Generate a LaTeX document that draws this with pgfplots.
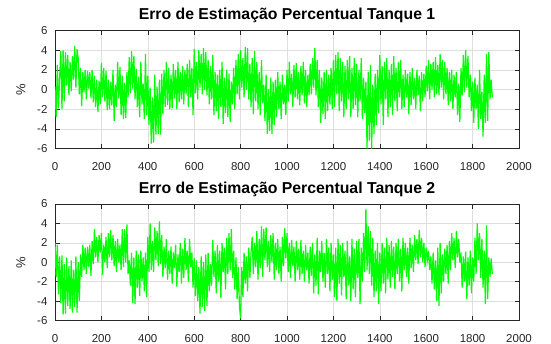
\documentclass[border=0pt]{standalone}
\usepackage{pgfplots}
\pgfplotsset{compat=1.18}
\usepackage{pgfplotstable}
\usepackage{fontspec}
\setmainfont{Liberation Sans}
\definecolor{axgray}{gray}{0.15}
\definecolor{gridgray}{gray}{0.87}
\definecolor{sig}{rgb}{0,1,0}

% Tanque 1 -- one value every 5 samples, starting at sample 0
\pgfplotstableread[row sep=\\]{
y\\
0.3\\ -2.8\\ 2.5\\ -1.9\\ 1.2\\ 3.9\\ -2.0\\ 4.0\\ -1.2\\ 3.8\\
0.4\\ 3.5\\ -0.6\\ 2.8\\ -0.2\\ 3.4\\ 1.0\\ 4.4\\ 0.2\\ 4.1\\
3.2\\ -0.5\\ 2.2\\ -1.7\\ 1.8\\ -0.3\\ 2.0\\ -1.0\\ 1.9\\ 0.1\\
1.8\\ -0.9\\ 2.0\\ -1.3\\ 1.4\\ -1.8\\ 1.0\\ -2.3\\ 0.9\\ -1.5\\
2.7\\ -0.8\\ 2.2\\ -1.2\\ 1.9\\ -2.1\\ 1.0\\ -2.0\\ 0.8\\ -1.6\\
2.0\\ -3.2\\ 0.5\\ -1.8\\ 2.8\\ -0.9\\ 2.3\\ -2.6\\ 1.4\\ -3.0\\
0.7\\ -2.9\\ 1.8\\ -0.8\\ 3.3\\ -0.4\\ 3.9\\ 0.1\\ 3.4\\ -1.0\\
2.1\\ -1.8\\ 1.3\\ -2.8\\ 2.8\\ -1.5\\ 0.6\\ -3.0\\ 3.6\\ -2.6\\
1.4\\ -3.6\\ 0.2\\ -5.5\\ -0.8\\ -5.4\\ 1.5\\ -4.6\\ 0.3\\ -4.5\\
1.0\\ -4.6\\ 1.6\\ -2.5\\ 2.0\\ -1.8\\ 2.8\\ -1.6\\ 2.2\\ -2.0\\
1.5\\ -1.9\\ 2.6\\ -0.9\\ 2.0\\ -2.0\\ 2.8\\ -1.3\\ 1.8\\ -1.0\\
2.4\\ -1.5\\ 2.0\\ -0.5\\ 2.6\\ -1.8\\ 3.0\\ -0.8\\ 2.2\\ -2.6\\
4.1\\ -0.4\\ 2.8\\ -1.0\\ 4.0\\ 0.2\\ 3.6\\ -0.5\\ 4.2\\ 0.0\\
3.8\\ -0.6\\ 3.0\\ -1.5\\ 2.4\\ -1.0\\ 3.5\\ -2.6\\ 1.8\\ -2.2\\
1.5\\ -3.0\\ 2.0\\ -1.8\\ 2.8\\ -3.5\\ 1.2\\ -2.4\\ 2.0\\ -2.8\\
1.6\\ -3.3\\ 0.8\\ -1.5\\ 2.2\\ -2.0\\ 3.0\\ -0.5\\ 3.6\\ -1.0\\
4.0\\ 0.2\\ 3.2\\ -0.8\\ 4.3\\ 0.0\\ 4.2\\ -1.0\\ 2.6\\ -1.8\\
3.2\\ -2.5\\ 3.9\\ -1.2\\ 2.8\\ -2.0\\ 1.8\\ -2.6\\ 3.0\\ -1.4\\
0.5\\ -3.2\\ 1.5\\ -4.5\\ 0.0\\ -4.2\\ 1.2\\ -4.5\\ 0.8\\ -3.6\\
1.0\\ -2.8\\ 1.8\\ -2.0\\ 0.8\\ -3.0\\ 1.5\\ -1.5\\ 0.5\\ -2.6\\
2.0\\ -1.2\\ 2.8\\ -0.5\\ 1.6\\ -1.8\\ 2.5\\ -0.8\\ 2.7\\ -1.0\\
1.8\\ -1.6\\ 2.4\\ -0.6\\ 2.8\\ -1.4\\ 2.0\\ -1.8\\ 1.5\\ -0.6\\
2.6\\ -0.5\\ 3.2\\ 0.2\\ 4.2\\ -0.6\\ 3.0\\ -1.8\\ 2.0\\ -3.4\\
1.2\\ -2.5\\ 1.8\\ -3.0\\ 2.0\\ -2.2\\ 1.5\\ -1.5\\ 2.2\\ -2.0\\
3.0\\ -1.8\\ 3.5\\ -0.5\\ 3.8\\ -2.2\\ 3.2\\ -1.2\\ 2.8\\ -2.8\\
2.4\\ -2.0\\ 3.0\\ -1.0\\ 3.4\\ -2.8\\ 2.2\\ -2.0\\ 3.2\\ -1.6\\
2.6\\ -2.8\\ 2.0\\ -1.2\\ 3.2\\ -3.0\\ 1.2\\ -2.4\\ 0.8\\ -6.0\\
1.8\\ -5.2\\ 2.5\\ -6.0\\ 0.5\\ -4.5\\ 1.6\\ -3.6\\ 2.0\\ -2.4\\
3.5\\ -1.5\\ 2.4\\ -3.6\\ 2.8\\ -1.0\\ 3.2\\ -2.8\\ 2.0\\ -1.8\\
2.6\\ -2.6\\ 3.4\\ -1.2\\ 2.2\\ -2.2\\ 2.8\\ -0.8\\ 3.0\\ -2.0\\
1.5\\ -1.8\\ 2.0\\ -0.8\\ 1.6\\ -2.5\\ 1.8\\ -1.6\\ 2.2\\ -1.0\\
1.2\\ -2.0\\ 2.0\\ -0.6\\ 1.4\\ -2.2\\ 1.8\\ -1.2\\ 1.6\\ -0.8\\
2.4\\ -0.2\\ 3.0\\ -1.0\\ 2.6\\ 0.0\\ 2.8\\ -0.8\\ 3.3\\ -0.5\\
2.5\\ -0.6\\ 3.6\\ 0.2\\ 3.0\\ -1.0\\ 2.8\\ -0.5\\ 2.2\\ -1.6\\
1.8\\ -1.2\\ 2.0\\ -2.0\\ 1.5\\ -0.8\\ 1.8\\ -2.6\\ 0.6\\ -3.3\\
2.2\\ -0.6\\ 3.5\\ -0.3\\ 4.0\\ 0.2\\ 3.4\\ -0.8\\ 1.5\\ -2.2\\
0.8\\ -3.4\\ 1.2\\ -2.0\\ 0.5\\ -4.0\\ 2.0\\ -3.0\\ -0.2\\ -4.8\\
1.5\\ -3.4\\ 3.6\\ -3.2\\ 3.8\\ -1.0\\ 1.0\\ -0.8\\
}\tankA

% Tanque 2 -- one value every 5 samples, starting at sample 0
\pgfplotstableread[row sep=\\]{
y\\
2.0\\ -1.5\\ 1.8\\ -3.3\\ 0.6\\ -4.2\\ 0.7\\ -5.4\\ -0.2\\ -5.3\\
0.5\\ -4.5\\ -0.4\\ -4.8\\ 0.2\\ -5.2\\ -0.8\\ -4.6\\ 0.6\\ -5.2\\
0.0\\ -4.0\\ 0.8\\ -1.5\\ 1.8\\ -0.8\\ 1.5\\ -1.2\\ 1.6\\ -0.5\\
1.8\\ -1.4\\ 2.2\\ -0.2\\ 3.4\\ 0.5\\ 2.6\\ 0.0\\ 2.8\\ 1.0\\
3.0\\ -1.3\\ 1.8\\ 0.0\\ 2.6\\ -0.6\\ 3.0\\ 0.5\\ 3.3\\ 0.2\\
2.8\\ -0.4\\ 2.2\\ -1.0\\ 2.4\\ 0.0\\ 1.8\\ -0.8\\ 3.4\\ -0.5\\
3.4\\ 0.0\\ 3.9\\ -1.2\\ 0.2\\ -2.4\\ 1.0\\ -4.2\\ 0.5\\ -4.3\\
1.2\\ -2.6\\ 0.8\\ -3.5\\ 1.2\\ -2.0\\ 0.5\\ -3.0\\ 1.0\\ -3.6\\
2.6\\ -1.0\\ 4.0\\ -0.8\\ 2.2\\ -1.0\\ 3.6\\ 0.2\\ 3.2\\ -0.4\\
4.2\\ -0.2\\ 2.8\\ -1.5\\ 1.6\\ -0.6\\ 2.4\\ -1.8\\ 1.2\\ -1.2\\
1.6\\ -2.2\\ 1.0\\ -0.6\\ 1.8\\ -2.5\\ 0.8\\ -1.0\\ 2.0\\ -2.2\\
1.4\\ -1.6\\ 2.5\\ -0.8\\ 1.2\\ -2.0\\ 2.4\\ -0.5\\ 1.0\\ -2.6\\
0.4\\ -3.5\\ 0.2\\ -4.0\\ -0.5\\ -5.3\\ 0.6\\ -4.6\\ 0.0\\ -5.0\\
0.8\\ -4.5\\ 1.0\\ -3.0\\ -0.2\\ -2.4\\ 2.3\\ -1.5\\ 1.2\\ -3.2\\
1.8\\ -2.0\\ 1.2\\ -3.7\\ 2.0\\ -1.0\\ 1.5\\ -2.8\\ 2.5\\ -1.2\\
3.0\\ -0.8\\ 3.4\\ -1.6\\ 1.2\\ -2.8\\ 0.5\\ -3.8\\ -0.5\\ -4.5\\
-5.8\\ -0.5\\ -3.6\\ 1.0\\ -2.2\\ 0.6\\ -3.0\\ 1.5\\ -1.6\\ 1.0\\
2.6\\ -1.2\\ 2.0\\ -0.5\\ 3.2\\ -1.8\\ 2.4\\ -0.6\\ 3.7\\ -1.5\\
3.4\\ 0.2\\ 3.6\\ -0.5\\ 2.2\\ -1.0\\ 2.8\\ 0.0\\ 3.0\\ -1.8\\
2.0\\ -0.8\\ 2.4\\ -1.2\\ 1.6\\ -2.0\\ 2.6\\ -0.4\\ 3.5\\ 0.4\\
3.0\\ -1.0\\ 2.0\\ -1.6\\ 2.3\\ -0.4\\ 1.6\\ -2.0\\ 2.2\\ -0.8\\
1.4\\ -1.8\\ 2.3\\ -1.2\\ 1.2\\ -2.0\\ 1.8\\ -0.8\\ 1.0\\ -2.2\\
1.6\\ -1.4\\ 2.0\\ -3.2\\ 0.8\\ -2.4\\ 2.5\\ -3.3\\ 1.2\\ -1.0\\
2.2\\ -2.0\\ 1.0\\ -2.6\\ 2.4\\ -1.2\\ 1.5\\ -3.0\\ 2.0\\ -1.8\\
0.8\\ -3.6\\ 1.5\\ -4.0\\ 2.4\\ -2.2\\ 1.8\\ -3.4\\ 2.0\\ -1.5\\
1.2\\ -3.8\\ 2.2\\ -2.4\\ 0.6\\ -4.0\\ 2.4\\ -2.8\\ 1.4\\ -3.6\\
2.2\\ -1.6\\ 2.4\\ -4.3\\ 1.5\\ -2.0\\ 3.0\\ -1.0\\ 5.5\\ -0.8\\
3.7\\ -1.2\\ 3.2\\ -2.4\\ 2.5\\ -3.6\\ 1.2\\ -3.0\\ 2.0\\ -4.3\\
1.0\\ -3.0\\ 2.0\\ -2.2\\ 1.5\\ -3.2\\ 2.5\\ -1.8\\ 1.8\\ -2.6\\
2.2\\ -1.5\\ 1.6\\ -2.8\\ 2.0\\ -1.2\\ 2.4\\ -2.0\\ 1.4\\ -3.0\\
2.5\\ -0.8\\ 2.0\\ -1.5\\ 1.5\\ -2.2\\ 2.5\\ -0.6\\ 1.8\\ -1.0\\
2.8\\ 0.2\\ 2.4\\ -0.2\\ 3.3\\ 0.5\\ 2.5\\ 0.0\\ 2.0\\ -0.5\\
1.5\\ 0.2\\ 1.2\\ -0.8\\ 0.6\\ -2.2\\ 1.0\\ -2.8\\ 0.2\\ -4.0\\
1.5\\ -4.5\\ 2.0\\ -3.2\\ 0.8\\ -2.0\\ 1.4\\ -1.2\\ 1.8\\ -2.2\\
2.2\\ -0.8\\ 3.0\\ 0.2\\ 2.5\\ -0.6\\ 3.2\\ 0.5\\ 2.4\\ 0.0\\
1.0\\ -2.6\\ 0.6\\ -2.0\\ 1.1\\ -3.8\\ 0.5\\ -2.4\\ 1.2\\ -3.2\\
0.5\\ -2.0\\ 2.5\\ -1.2\\ 4.0\\ 0.2\\ 3.0\\ -1.6\\ 2.4\\ -2.6\\
1.2\\ -4.3\\ 3.8\\ -3.8\\ 0.5\\ -1.5\\ 0.4\\ -1.2\\
}\tankB

\pgfplotsset{
  matlabax/.style={
    anchor=south west, scale only axis,
    width=464pt,
    xmin=0, xmax=2000, ymin=-6, ymax=6,
    xtick={0,200,...,2000}, ytick={-6,-4,...,6},
    grid=major,
    grid style={gridgray, line width=0.4pt},
    axis line style={axgray, line width=0.6pt},
    tick style={axgray, line width=0.6pt},
    tick align=inside, major tick length=4.5pt,
    ticklabel style={font=\fontsize{11.5}{13}\selectfont, text=axgray},
    xticklabel style={yshift=-10pt},
    yticklabel style={xshift=-4pt},
    /pgf/number format/assume math mode=true,
    /pgf/number format/1000 sep={},
    title style={font=\bfseries\fontsize{15.8}{17}\selectfont, at={(axis description cs:0.5,1)}, anchor=base, yshift=5pt},
    ylabel={\%},
    ylabel style={font=\fontsize{13}{15}\selectfont, text=axgray, at={(axis description cs:0,0.5)}, anchor=center, yshift=34pt},
  }
}

\begin{document}
\begin{tikzpicture}
\useasboundingbox (0pt,0pt) rectangle (551pt,344pt);
\begin{axis}[matlabax, at={(55pt,195.5pt)}, height=118pt,
  title={Erro de Estimação Percentual Tanque 1}]
\addplot[sig, line width=1.2pt] table[x expr=\coordindex*5, y=y] {\tankA};
\end{axis}
\begin{axis}[matlabax, at={(55pt,23.5pt)}, height=116.5pt,
  title={Erro de Estimação Percentual Tanque 2}]
\addplot[sig, line width=1.2pt] table[x expr=\coordindex*5, y=y] {\tankB};
\end{axis}
\end{tikzpicture}
\end{document}
